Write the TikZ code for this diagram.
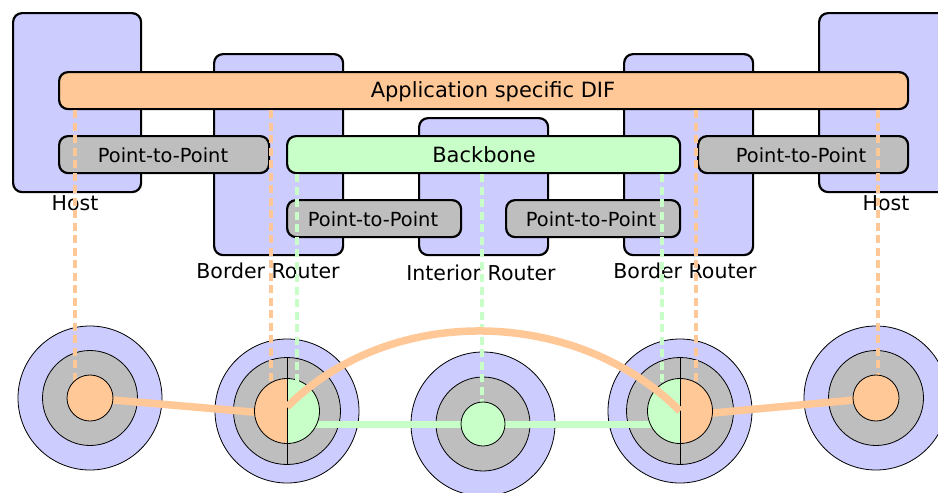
\documentclass[tikz,border=0pt]{standalone}
\usepackage{fontspec}
\setmainfont{DejaVu Sans}
\definecolor{lav}{RGB}{204,204,255}
\definecolor{peach}{RGB}{255,200,150}
\definecolor{pgray}{RGB}{190,190,190}
\definecolor{pgreen}{RGB}{200,255,200}
\begin{document}
\begin{tikzpicture}[x=1pt,y=-1pt,
  devbox/.style={draw=black, line width=2.2pt, fill=lav, rounded corners=9pt, anchor=north west, inner sep=0pt},
  bar/.style={draw=black, line width=2.2pt, rounded corners=9pt, anchor=north west, inner sep=0pt},
  bigtxt/.style={anchor=base, inner sep=0pt, font=\fontsize{21}{25}\selectfont},
  ptxt/.style={anchor=base, inner sep=0pt, font=\fontsize{19.4}{23}\selectfont},
  lbl/.style={anchor=base, inner sep=0pt, font=\fontsize{20.5}{24}\selectfont},
  odash/.style={draw=peach, line width=3.2pt, dash pattern=on 8pt off 4.5pt},
  gdash/.style={draw=pgreen, line width=3.2pt, dash pattern=on 8pt off 4.5pt},
  ring/.style={circle, draw=black, line width=0.8pt, inner sep=0pt},
  othick/.style={draw=peach, line width=7.5pt},
  gthick/.style={draw=pgreen, line width=7pt},
  divider/.style={draw=black, line width=0.8pt},
]
\clip (0,0) rectangle (938,493);
% devices
\node[devbox, minimum width=128pt, minimum height=179pt] (host1) at (12,12) {};
\node[devbox, minimum width=129pt, minimum height=201pt] (br1) at (213,53) {};
\node[devbox, minimum width=129pt, minimum height=137pt] (ir) at (418,117) {};
\node[devbox, minimum width=129pt, minimum height=201pt] (br2) at (623,53) {};
\node[devbox, minimum width=128pt, minimum height=179pt] (host2) at (818,12) {};
% DIF bars
\node[bar, fill=peach, minimum width=849pt, minimum height=37pt] (app) at (58,71) {};
\node[bar, fill=pgray, minimum width=210pt, minimum height=37pt] (p2pa) at (58,135) {};
\node[bar, fill=pgreen, minimum width=393pt, minimum height=37pt] (bb) at (286,135) {};
\node[bar, fill=pgray, minimum width=210pt, minimum height=37pt] (p2pb) at (697,135) {};
\node[bar, fill=pgray, minimum width=174pt, minimum height=37pt] (p2pc) at (286,199) {};
\node[bar, fill=pgray, minimum width=174pt, minimum height=37pt] (p2pd) at (505,199) {};
% texts
\node[bigtxt] (tapp) at (493,97) {Application specific DIF};
\node[bigtxt] (tbb) at (484,162) {Backbone};
\node[ptxt] (tpa) at (163,162) {Point-to-Point};
\node[ptxt] (tpb) at (801,162) {Point-to-Point};
\node[ptxt] (tpc) at (373,226) {Point-to-Point};
\node[ptxt] (tpd) at (591,226) {Point-to-Point};
\node[lbl] (lh1) at (75,210) {Host};
\node[lbl] (lbr1) at (268,278) {Border Router};
\node[lbl] (lir) at (481,280) {Interior Router};
\node[lbl] (lbr2) at (685,278) {Border Router};
\node[lbl] (lh2) at (886,210) {Host};
% circle centres
\coordinate (c1) at (90,398);
\coordinate (c2) at (287,411);
\coordinate (c3) at (483,424);
\coordinate (c4) at (680,411);
\coordinate (c5) at (876,398);
% outer and middle rings
\node[ring, fill=lav, minimum size=144pt] (o1) at (c1) {};
\node[ring, fill=lav, minimum size=144pt] (o2) at (c2) {};
\node[ring, fill=lav, minimum size=144pt] (o3) at (c3) {};
\node[ring, fill=lav, minimum size=144pt] (o4) at (c4) {};
\node[ring, fill=lav, minimum size=144pt] (o5) at (c5) {};
\node[ring, fill=pgray, minimum size=95pt] (m1) at (c1) {};
\node[ring, fill=pgray, minimum size=107pt] (m2) at (c2) {};
\node[ring, fill=pgray, minimum size=94pt] (m3) at (c3) {};
\node[ring, fill=pgray, minimum size=107pt] (m4) at (c4) {};
\node[ring, fill=pgray, minimum size=95pt] (m5) at (c5) {};
% dashed layer links
\coordinate (e1) at (75,398);
\coordinate (e2) at (271,411);
\coordinate (e3) at (297,396);
\coordinate (e4) at (482,424);
\coordinate (e5) at (662,396);
\coordinate (e6) at (696,411);
\coordinate (e7) at (878,398);
\draw[odash] (app.south -| e1) -- (e1);
\draw[odash] (app.south -| e2) -- (e2);
\draw[odash] (app.south -| e6) -- (e6);
\draw[odash] (app.south -| e7) -- (e7);
\draw[gdash] (bb.south -| e4) -- (e4);
% flows
\coordinate (f2) at (287,415);
\coordinate (f4) at (680,416);
\coordinate (g2) at (287,424);
\coordinate (g4) at (680,424);
\draw[othick] (c1) -- (f2);
\draw[othick] (f4) -- (c5);
\draw[gthick] (g2) -- (c3) -- (g4);
% inner circles
\node[ring, fill=peach, minimum size=46pt] (i1) at (c1) {};
\node[ring, fill=pgreen, minimum size=44pt] (i3) at (c3) {};
\node[ring, fill=peach, minimum size=46pt] (i5) at (c5) {};
\fill[peach] (c2) ++(0,32.5) arc[start angle=-90, end angle=-270, radius=32.5pt] -- cycle;
\fill[pgreen] (c2) ++(0,32.5) arc[start angle=-90, end angle=90, radius=32.5pt] -- cycle;
\fill[pgreen] (c4) ++(0,32.5) arc[start angle=-90, end angle=-270, radius=32.5pt] -- cycle;
\fill[peach] (c4) ++(0,32.5) arc[start angle=-90, end angle=90, radius=32.5pt] -- cycle;
\node[ring, minimum size=65pt] (i2) at (c2) {};
\node[ring, minimum size=65pt] (i4) at (c4) {};
\draw[gdash] (bb.south -| e3) -- (e3);
\draw[gdash] (bb.south -| e5) -- (e5);
\draw[divider] (m2.north) -- (m2.south);
\draw[divider] (m4.north) -- (m4.south);
% arc
\coordinate (a2) at (287,407);
\coordinate (a4) at (680,411);
\draw[othick] (a2) .. controls (391,303) and (576,307) .. (a4);
\end{tikzpicture}
\end{document}
